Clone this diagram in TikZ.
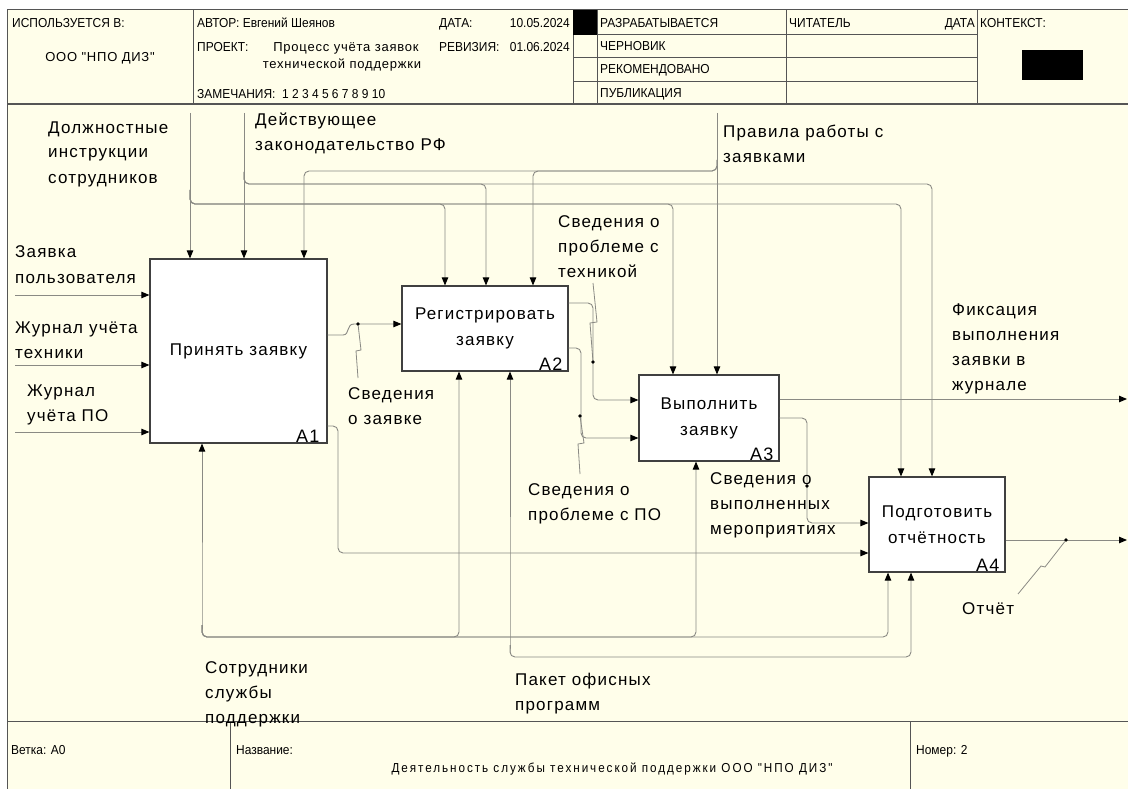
\documentclass[tikz,border=0pt]{standalone}
\usepackage{fontspec}
\setmainfont{Liberation Sans}
\newfontfamily\lblfont[LetterSpace=7]{Liberation Sans}
\newfontfamily\hdrfont[FakeStretch=0.92]{Liberation Sans}
\newfontfamily\widefont[LetterSpace=6]{Liberation Sans}
\newfontfamily\ttlfont[FakeStretch=0.9,LetterSpace=15]{Liberation Sans}
\usetikzlibrary{arrows.meta}
\definecolor{paper}{HTML}{FFFEEA}
\definecolor{wiregray}{HTML}{8A8A84}
\definecolor{framegray}{HTML}{555555}
\definecolor{boxgray}{HTML}{404040}
\tikzset{
  frameline/.style={draw=framegray, line width=1pt},
  procbox/.style={draw=boxgray, fill=white, line width=1.2pt, align=center, inner sep=0pt,
    font=\lblfont\fontsize{17}{26}\selectfont},
  boxnum/.style={font=\lblfont\fontsize{18}{20}\selectfont, inner sep=0pt, anchor=base east},
  % multi-line labels: the base anchor sits on the last line
  lbl/.style={font=\lblfont\fontsize{17}{25}\selectfont, align=left, inner sep=0pt, anchor=base west},
  hdr/.style={font=\hdrfont\fontsize{13}{15}\selectfont, inner sep=0pt, anchor=base west},
  hdrr/.style={hdr, anchor=base east},
  arrowline/.style={draw=wiregray, line width=0.9pt, rounded corners=5pt,
    -{Triangle[black,length=8pt,width=6.5pt]}},
  leader/.style={draw=wiregray, line width=0.8pt},
  joint/.style={circle, fill=black, inner sep=0pt, minimum size=3.6pt},
}
\begin{document}
\begin{tikzpicture}[x=1pt,y=-1pt]
\useasboundingbox (0,0) rectangle (1128,789);
\fill[paper] (7,10) rectangle (1128,789);

% ---- form frame ----
\draw[frameline] (7,789) -- (7,10) -- (1128,10);
\draw[frameline, line width=1.4pt] (7,104) -- (1128,104);
\draw[frameline] (7,721) -- (1128,721);
\foreach \x in {193,573,597,786,977} \draw[frameline] (\x,10) -- (\x,104);
\foreach \y in {35,58,82} \draw[frameline] (573,\y) -- (977,\y);
\fill[black] (573,10) rectangle (597,35);
\fill[black] (1022,50) rectangle (1083,80);
\draw[frameline] (230,721) -- (230,789);
\draw[frameline] (910,721) -- (910,789);

% ---- header texts ----
\node[hdr] (hUsed) at (12,28) {ИСПОЛЬЗУЕТСЯ В:};
\node[font=\widefont\fontsize{13}{15}\selectfont, inner sep=0pt] (hOrg) at (100,58) {ООО "НПО ДИЗ"};
\node[hdr] (hAuthor) at (197,28) {АВТОР: Евгений Шеянов};
\node[hdr] (hDate) at (439,28) {ДАТА:};
\node[hdrr] (hDateV) at (570,28) {10.05.2024};
\node[hdr] (hProj) at (197,52) {ПРОЕКТ:};
\node[font=\widefont\fontsize{13}{15}\selectfont, inner sep=0pt, anchor=base] (hProj1) at (346,52) {Процесс учёта заявок};
\node[font=\widefont\fontsize{13}{15}\selectfont, inner sep=0pt, anchor=base] (hProj2) at (342,69) {технической поддержки};
\node[hdr] (hRev) at (439,52) {РЕВИЗИЯ:};
\node[hdrr] (hRevV) at (570,52) {01.06.2024};
\node[hdr] (hNotes) at (197,99) {ЗАМЕЧАНИЯ:\ \ 1 2 3 4 5 6 7 8 9 10};
\node[hdr] (hS1) at (600,28) {РАЗРАБАТЫВАЕТСЯ};
\node[hdr] (hS2) at (600,51) {ЧЕРНОВИК};
\node[hdr] (hS3) at (600,74) {РЕКОМЕНДОВАНО};
\node[hdr] (hS4) at (600,98) {ПУБЛИКАЦИЯ};
\node[hdr] (hReader) at (789,28) {ЧИТАТЕЛЬ};
\node[hdrr] (hRDate) at (975,28) {ДАТА};
\node[hdr] (hCtx) at (980,28) {КОНТЕКСТ:};

% ---- footer texts ----
\node[hdr] (fNode) at (11,754) {Ветка: А0};
\node[hdr] (fName) at (236,754) {Название:};
\node[font=\ttlfont\fontsize{13}{15}\selectfont, inner sep=0pt, anchor=base] (fTitle) at (612,772)
  {Деятельность службы технической поддержки ООО "НПО ДИЗ"};
\node[hdr] (fNum) at (916,754) {Номер: 2};

% ---- activities ----
\node[procbox, minimum width=177pt, minimum height=184pt] (A1) at (238.5,351) {Принять заявку};
\node[procbox, minimum width=166pt, minimum height=85pt] (A2) at (485,328.5) {Регистрировать\\заявку};
\node[procbox, minimum width=140pt, minimum height=86pt] (A3) at (709,418) {Выполнить\\заявку};
\node[procbox, minimum width=136pt, minimum height=95pt] (A4) at (937,524.5) {Подготовить\\отчётность};
\node[boxnum] (n1) at ([xshift=-8pt,yshift=1pt]A1.south east) {A1};
\node[boxnum] (n2) at ([xshift=-6pt,yshift=1pt]A2.south east) {A2};
\node[boxnum] (n3) at ([xshift=-6pt,yshift=1pt]A3.south east) {A3};
\node[boxnum] (n4) at ([xshift=-6pt,yshift=1pt]A4.south east) {A4};

% ---- boundary ends ----
\coordinate (c1) at (190,113);
\coordinate (c2) at (244,113);
\coordinate (c3) at (717,113);
\coordinate (i1) at (15,295);
\coordinate (i2) at (15,365);
\coordinate (i3) at (15,432);
\coordinate (m1) at (202,637);
\coordinate (m2) at (510,657);
\coordinate (o1) at (1127,399);
\coordinate (o2) at (1127,540);

% ---- controls ----
\draw[arrowline] (c1) -- (A1.north -| c1);
\foreach \bx/\tgt in {445/A2, 673/A3, 901/A4}
  \draw[arrowline] (c1 |- 0,190) -- (c1 |- 0,204) -- (\bx,204) -- (\tgt.north -| \bx,0);
\draw[arrowline] (c2) -- (A1.north -| c2);
\foreach \bx/\tgt in {486/A2, 932/A4}
  \draw[arrowline] (c2 |- 0,172) -- (c2 |- 0,184) -- (\bx,184) -- (\tgt.north -| \bx,0);
\draw[arrowline] (c3) -- (A3.north -| c3);
\foreach \bx/\tgt in {533/A2, 304/A1}
  \draw[arrowline] (c3 |- 0,160) -- (c3 |- 0,171) -- (\bx,171) -- (\tgt.north -| \bx,0);

% ---- inputs ----
\draw[arrowline] (i1) -- (A1.west |- i1);
\draw[arrowline] (i2) -- (A1.west |- i2);
\draw[arrowline] (i3) -- (A1.west |- i3);

% ---- mechanisms ----
\draw[arrowline] (m1 |- 0,625) -- (m1) -- (m1 |- A1.south);
\foreach \bx/\tgt in {459/A2, 696/A3, 888/A4}
  \draw[arrowline] (m1 |- 0,625) -- (m1) -- (\bx,637) -- (\tgt.south -| \bx,0);
\draw[arrowline] (m2 |- 0,645) -- (m2) -- (m2 |- A2.south);
\draw[arrowline] (m2 |- 0,645) -- (m2) -- (911,657) -- (A4.south -| 911,0);

% ---- outputs between activities ----
\draw[arrowline, sharp corners] (A1.east |- 0,335) -- (343,335)
  .. controls (350,335) and (346,324) .. (354,324) -- (A2.west |- 0,324);
\draw[arrowline] (A1.east |- 0,426) -- (338,426) -- (338,553) -- (A4.west |- 0,553);
\draw[arrowline] (A2.east |- 0,303) -- (593,303) -- (593,400) -- (A3.west |- 0,400);
\draw[arrowline] (A2.east |- 0,348) -- (581,348) -- (581,438) -- (A3.west |- 0,438);
\draw[arrowline] (A3.east |- 0,399) -- (o1);
\draw[arrowline] (A3.east |- 0,418) -- (807,418) -- (807,523) -- (A4.west |- 0,523);
\draw[arrowline] (A4.east |- 0,540) -- (o2);

% ---- label leaders ----
\node[joint] (d1) at (358,324) {};
\node[joint] (d2) at (593,362) {};
\node[joint] (d3) at (580,416) {};
\node[joint] (d4) at (807,486) {};
\node[joint] (d5) at (1066,540) {};
\draw[leader] (d1) -- (361,350) -- (356,351) -- (358,378);
\draw[leader] (593,283) -- (597,322) -- (590,323) -- (d2);
\draw[leader] (d3) -- (584,443) -- (578,444) -- (580,474);
\draw[leader] (d5) -- (1045,567) -- (1041,566) -- (1018,594);

% ---- arrow labels ----
\node[lbl] (tC1) at (48,183) {Должностные\\инструкции\\сотрудников};
\node[lbl] (tC2) at (255,151) {Действующее\\законодательство РФ};
\node[lbl] (tC3) at (723,163) {Правила работы с\\заявками};
\node[lbl] (tI1) at (15,283) {Заявка\\пользователя};
\node[lbl] (tI2) at (15,358) {Журнал учёта\\техники};
\node[lbl] (tI3) at (27,421) {Журнал\\учёта ПО};
\node[lbl] (tO1) at (348,424) {Сведения\\о заявке};
\node[lbl] (tO2) at (558,277) {Сведения о\\проблеме с\\техникой};
\node[lbl] (tO3) at (528,520) {Сведения о\\проблеме с ПО};
\node[lbl] (tO4) at (710,534) {Сведения о\\выполненных\\мероприятиях};
\node[lbl] (tO5) at (952,390) {Фиксация\\выполнения\\заявки в\\журнале};
\node[lbl] (tO6) at (962,614) {Отчёт};
\node[lbl] (tM1) at (205,723) {Сотрудники\\службы\\поддержки};
\node[lbl] (tM2) at (515,710) {Пакет офисных\\программ};
\end{tikzpicture}
\end{document}
